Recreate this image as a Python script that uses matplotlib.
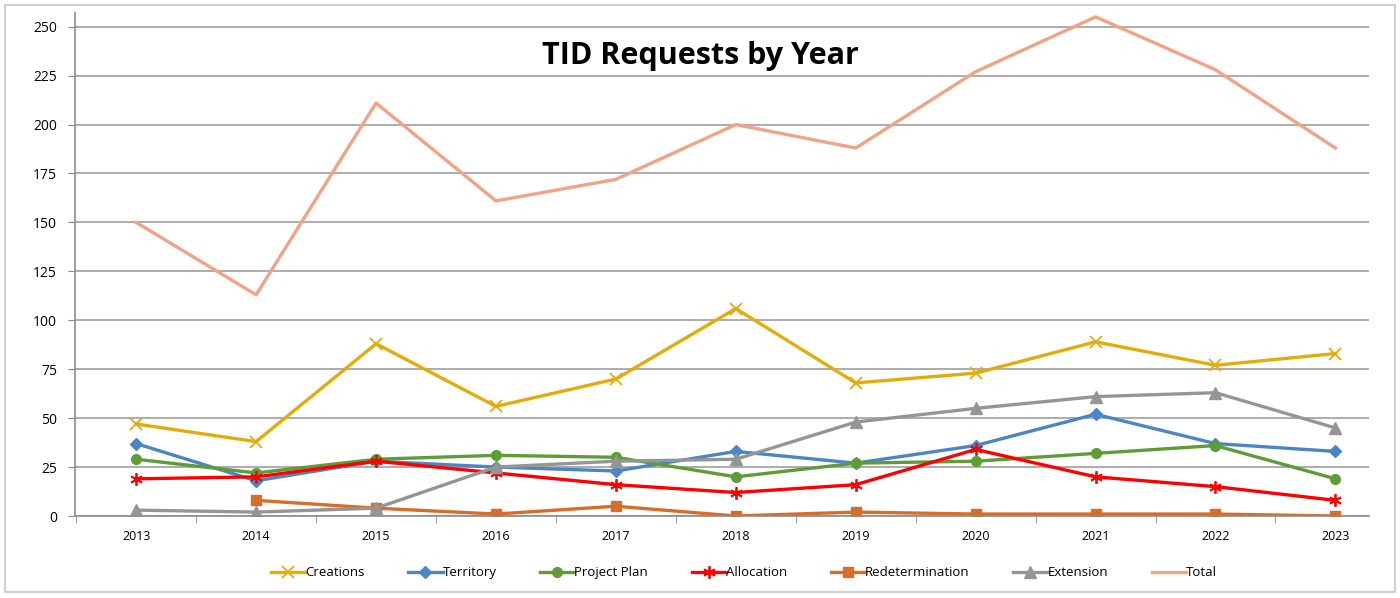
import matplotlib.pyplot as plt
import numpy as np
from matplotlib.patches import Rectangle

years = [2013, 2014, 2015, 2016, 2017, 2018, 2019, 2020, 2021, 2022, 2023]
creations = [47, 38, 88, 56, 70, 106, 68, 73, 89, 77, 83]
territory = [37, 18, 28, 25, 23, 33, 27, 36, 52, 37, 33]
project_plan = [29, 22, 29, 31, 30, 20, 27, 28, 32, 36, 19]
allocation = [19, 20, 28, 22, 16, 12, 16, 34, 20, 15, 8]
redetermination = [np.nan, 8, 4, 1, 5, 0, 2, 1, 1, 1, 0]
extension = [3, 2, 4, 25, 28, 29, 48, 55, 61, 63, 45]
total = [150, 113, 211, 161, 172, 200, 188, 227, 255, 228, 188]

plt.rcParams['font.family'] = ['Open Sans', 'DejaVu Sans']

fig = plt.figure(figsize=(14, 5.98), dpi=100)
ax = fig.add_axes([75 / 1400, 82 / 598, (1369 - 75) / 1400, (516 - 13) / 598])

lw = 2.4
ax.plot(years, creations, color='#E3AC0B', lw=lw, marker='x', ms=8, mew=1.3, label='Creations')
ax.plot(years, territory, color='#4A86C5', lw=lw, marker='D', ms=6, label='Territory')
ax.plot(years, project_plan, color='#5E9C36', lw=lw, marker='o', ms=7, label='Project Plan')
ax.plot(years, allocation, color='#FF0000', lw=lw, marker=(6, 2, 0), ms=9, mew=1.3, label='Allocation')
ax.plot(years, redetermination, color='#D66D28', lw=lw, marker='s', ms=7, label='Redetermination')
ax.plot(years, extension, color='#959595', lw=lw, marker='^', ms=8, label='Extension')
ax.plot(years, total, color='#F0A385', lw=lw, label='Total')

ax.set_xlim(2012.49, 2023.28)
ax.set_ylim(0, 257)
ax.set_yticks(range(0, 251, 25))
ax.set_xticks(years)
ax.set_xticks(np.arange(2012.5, 2023.5, 1), minor=True)
ax.tick_params(axis='x', which='major', length=0, pad=10, labelsize=9)
ax.tick_params(axis='x', which='minor', length=5, color='#888888', direction='out')
ax.tick_params(axis='y', length=5, color='#888888', labelsize=10, pad=8)

ax.grid(axis='y', color='#A6A6A6', lw=1.3)
ax.set_axisbelow(True)
for s in ['top', 'right']:
    ax.spines[s].set_visible(False)
for s in ['left', 'bottom']:
    ax.spines[s].set_color('#8C8C8C')
    ax.spines[s].set_linewidth(1.2)

fig.text(0.5, 0.906, 'TID Requests by Year', ha='center', va='center',
         fontsize=22, fontweight='bold')

ax.legend(loc='center', bbox_to_anchor=(0.517, -0.113), ncol=7, frameon=False,
          fontsize=9.5, handlelength=2.6, handletextpad=0.0, columnspacing=3.3)

fig.patches.append(Rectangle((5 / 1400, 6 / 598), 1390 / 1400, 587 / 598,
                             transform=fig.transFigure, fill=False,
                             edgecolor='#D0D0D0', lw=1.5))

fig.savefig('out.png', dpi=100)
